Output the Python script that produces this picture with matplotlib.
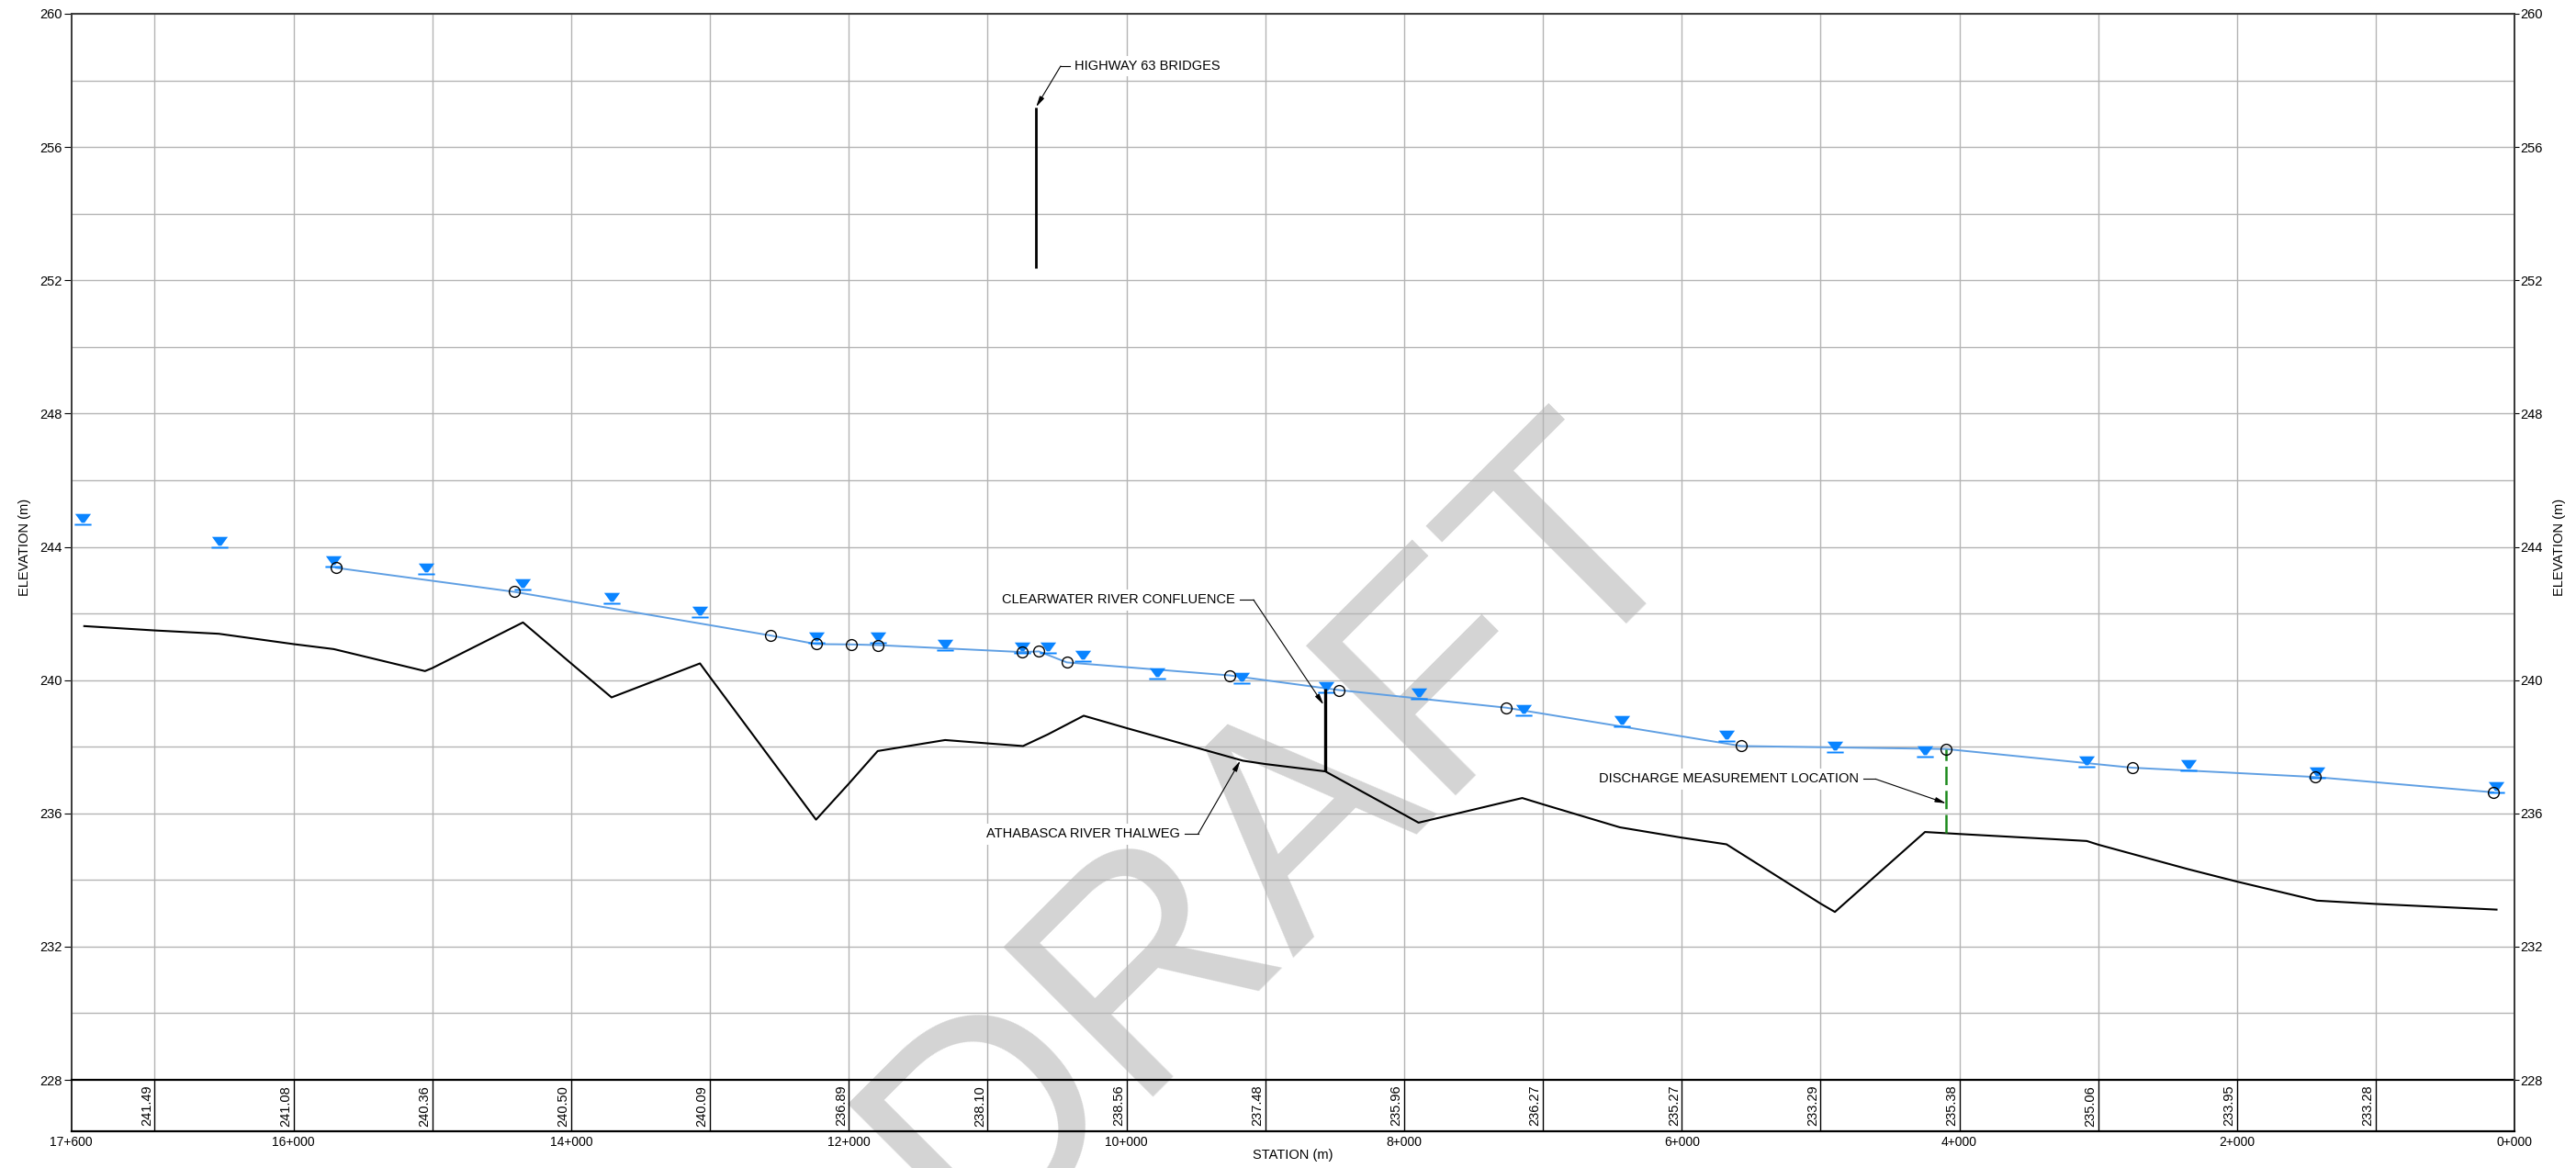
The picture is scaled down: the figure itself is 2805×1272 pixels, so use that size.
import numpy as np
import matplotlib.pyplot as plt
from matplotlib.path import Path

plt.rcParams['font.family'] = ['Liberation Sans', 'DejaVu Sans']

# Athabasca River thalweg at the surveyed cross sections (station m, elevation m)
thalweg_sta = [17507, 16538, 15710, 15053, 14347, 13709, 13072, 12236, 11792, 11306,
               10745, 10566, 10308, 9161, 8568, 7896, 7149, 6446, 5678, 4897,
               4248, 3083, 2349, 1425, 131]
thalweg_elev = [241.62, 241.39, 240.93, 240.27, 241.73, 239.48, 240.50, 235.81, 237.87, 238.20,
                238.02, 238.37, 238.93, 237.58, 237.26, 235.72, 236.46, 235.58, 235.07, 233.04,
                235.44, 235.17, 234.32, 233.38, 233.11]

# thalweg elevation tabulated every kilometre
band_sta = [17000, 16000, 15000, 14000, 13000, 12000, 11000, 10000, 9000,
            8000, 7000, 6000, 5000, 4000, 3000, 2000, 1000]
band_elev = [241.49, 241.08, 240.36, 240.50, 240.09, 236.89, 238.10, 238.56, 237.48,
             235.96, 236.27, 235.27, 233.29, 235.38, 235.06, 233.95, 233.28]

# computed water surface profile
wsp_sta = [15695, 14412, 12566, 12236, 11982, 11792, 10751, 10631, 10429, 9256,
           8470, 7263, 5571, 4096, 2756, 1437, 153]
wsp_elev = [243.37, 242.65, 241.34, 241.08, 241.07, 241.05, 240.84, 240.86, 240.53, 240.14,
            239.70, 239.17, 238.02, 237.93, 237.37, 237.09, 236.63]

# observed water levels
obs_sta = [17518, 16534, 15714, 15046, 14347, 13709, 13072, 12236, 11792, 11306,
           10753, 10566, 10314, 9780, 9168, 8561, 7893, 7141, 6434, 5678,
           4897, 4248, 3083, 2349, 1425, 131]
obs_elev = [244.67, 243.98, 243.42, 243.19, 242.72, 242.30, 241.90, 241.11, 241.11, 240.91,
            240.82, 240.81, 240.56, 240.04, 239.90, 239.62, 239.44, 238.93, 238.62, 238.16,
            237.83, 237.69, 237.39, 237.29, 237.08, 236.63]

bridge_sta, bridge_bottom, bridge_top = 10651, 252.36, 257.20
confluence_sta, confluence_top = 8568, 239.75
discharge_sta = 4096

station_ticks = [17600, 16000, 14000, 12000, 10000, 8000, 6000, 4000, 2000, 0]
elev_ticks = list(range(228, 261, 4))

# bed profile: survey points plus the tabulated kilometre values
bed = sorted(zip(thalweg_sta + band_sta, thalweg_elev + band_elev))
bed_sta = [p[0] for p in bed]
bed_elev = [p[1] for p in bed]


def station_label(s):
    return f'{s // 1000}+{s % 1000:03d}'


fig = plt.figure(figsize=(28.05, 12.72), dpi=100)
fig.patch.set_facecolor('white')
L, W = 77.7 / 2805, (2738.3 - 77.7) / 2805
ax = fig.add_axes([L, 1 - 1176 / 1272, W, (1176 - 15) / 1272])
band = fig.add_axes([L, 1 - 1232.3 / 1272, W, (1232.3 - 1176) / 1272])
for a in (ax, band):
    a.set_facecolor('none')
    a.set_xlim(17600, 0)

# --- main profile ---
ax.set_ylim(228, 260)
ax.set_axisbelow(True)
ax.set_xticks(np.arange(1000, 17001, 1000))
ax.tick_params(axis='x', length=0, labelbottom=False)
ax.set_yticks(elev_ticks)
ax.set_yticks(np.arange(230, 260, 4), minor=True)
ax.tick_params(axis='y', which='major', length=6, width=0.8, pad=1, labelsize=10.5)
ax.tick_params(axis='y', which='minor', length=0)
ax.grid(True, which='both', color='#b4b4b4', lw=1.0)
for side in ('top', 'left', 'right'):
    ax.spines[side].set_color('#3a3a3a')
    ax.spines[side].set_linewidth(1.4)
ax.spines['bottom'].set_color('black')
ax.spines['bottom'].set_linewidth(1.6)

twin = ax.twinx()
twin.set_ylim(228, 260)
twin.set_yticks(elev_ticks)
twin.tick_params(axis='y', length=3.3, width=0.8, pad=1, labelsize=10.5)
for side in ('top', 'left', 'bottom'):
    twin.spines[side].set_visible(False)
twin.spines['right'].set_color('#3a3a3a')
twin.spines['right'].set_linewidth(1.4)

ax.plot(bed_sta, bed_elev, color='black', lw=1.5, zorder=3)
ax.plot(wsp_sta, wsp_elev, color='#5f9fe3', lw=1.4, zorder=3)

# water level symbol: inverted triangle sitting on a short bar
tri = [(-8, 11.0), (8, 11.0), (1.5, 2.0), (-1.5, 2.0), (-8, 11.0)]
bar = [(-8.5, 0.9), (8.5, 0.9), (8.5, -0.9), (-8.5, -0.9), (-8.5, 0.9)]
wl_marker = Path.make_compound_path(Path(tri, closed=True), Path(bar, closed=True))
ax.plot(obs_sta, obs_elev, ls='none', marker=wl_marker, ms=17, mfc='#0a84ff',
        mec='none', mew=0, zorder=4)
ax.plot(wsp_sta, wsp_elev, ls='none', marker='o', ms=8.5, mfc='none', mec='black',
        mew=1.0, zorder=5)

# structures and locations
ax.plot([bridge_sta, bridge_sta], [bridge_bottom, bridge_top], color='black', lw=2.0,
        solid_capstyle='butt', zorder=4)
conf_bed = np.interp(confluence_sta, bed_sta, bed_elev)
ax.plot([confluence_sta, confluence_sta], [conf_bed, confluence_top], color='black', lw=2.4,
        solid_capstyle='butt', zorder=4)
dis_bed = np.interp(discharge_sta, bed_sta, bed_elev)
dis_ws = np.interp(discharge_sta, wsp_sta[::-1], wsp_elev[::-1])
ax.plot([discharge_sta, discharge_sta], [dis_bed, dis_ws], color='#1c8a1c', lw=1.8,
        ls=(0, (8, 2.5)), zorder=4)


def callout(text, text_xy, ha, start, knee, tip):
    ax.text(text_xy[0], text_xy[1], text, ha=ha, va='center', fontsize=10.5, zorder=6,
            bbox=dict(boxstyle='square,pad=0.3', fc='white', ec='none'))
    ax.plot([start, knee[0]], [knee[1], knee[1]], color='black', lw=0.8, zorder=7)
    ax.annotate('', xy=tip, xytext=knee, zorder=7,
                arrowprops=dict(arrowstyle='-|>,head_length=0.7,head_width=0.16',
                                color='black', lw=0.8, shrinkA=0, shrinkB=0))


callout('HIGHWAY 63 BRIDGES', (10375, 258.43), 'left', 10408, (10474, 258.43),
        (bridge_sta, bridge_top))
callout('CLEARWATER RIVER CONFLUENCE', (9218, 242.41), 'right', 9181, (9085, 242.41),
        (8580, 239.26))
callout('ATHABASCA RIVER THALWEG', (9617, 235.38), 'right', 9578, (9484, 235.38),
        (9180, 237.58))
callout('DISCHARGE MEASUREMENT LOCATION', (4723, 237.03), 'right', 4690, (4605, 237.03),
        (discharge_sta, 236.30))

# --- elevation band under the profile ---
band.set_ylim(0, 1)
band.set_yticks([])
band.vlines(band_sta, 0, 1, colors='black', lw=1.0)
for s, e in zip(band_sta, band_elev):
    band.annotate(f'{e:.2f}', xy=(s, 0.5), xytext=(-1, 0), textcoords='offset points',
                  rotation=90, ha='right', va='center', fontsize=10.5)
band.set_xticks(station_ticks)
band.set_xticklabels([station_label(s) for s in station_ticks])
band.tick_params(axis='x', length=0, pad=3.6, labelsize=10)
band.spines['top'].set_visible(False)
for side in ('left', 'right'):
    band.spines[side].set_linewidth(1.2)
band.spines['bottom'].set_linewidth(1.6)

fig.text(26.7 / 2805, 1 - 595.5 / 1272, 'ELEVATION (m)', rotation=90, ha='center',
         va='center', fontsize=10.5)
fig.text(2787 / 2805, 1 - 595.5 / 1272, 'ELEVATION (m)', rotation=90, ha='center',
         va='center', fontsize=10.5)
fig.text(1408 / 2805, 1 - 1258.3 / 1272, 'STATION (m)', ha='center', va='center',
         fontsize=10.5)

# watermark
fig.text(1452.6 / 2805, 1 - 970.4 / 1272, 'DRAFT', rotation=45, rotation_mode='anchor',
         ha='center', va='baseline', fontsize=241, color='#d4d4d4', zorder=-1)

fig.savefig('out.png', dpi=100)
